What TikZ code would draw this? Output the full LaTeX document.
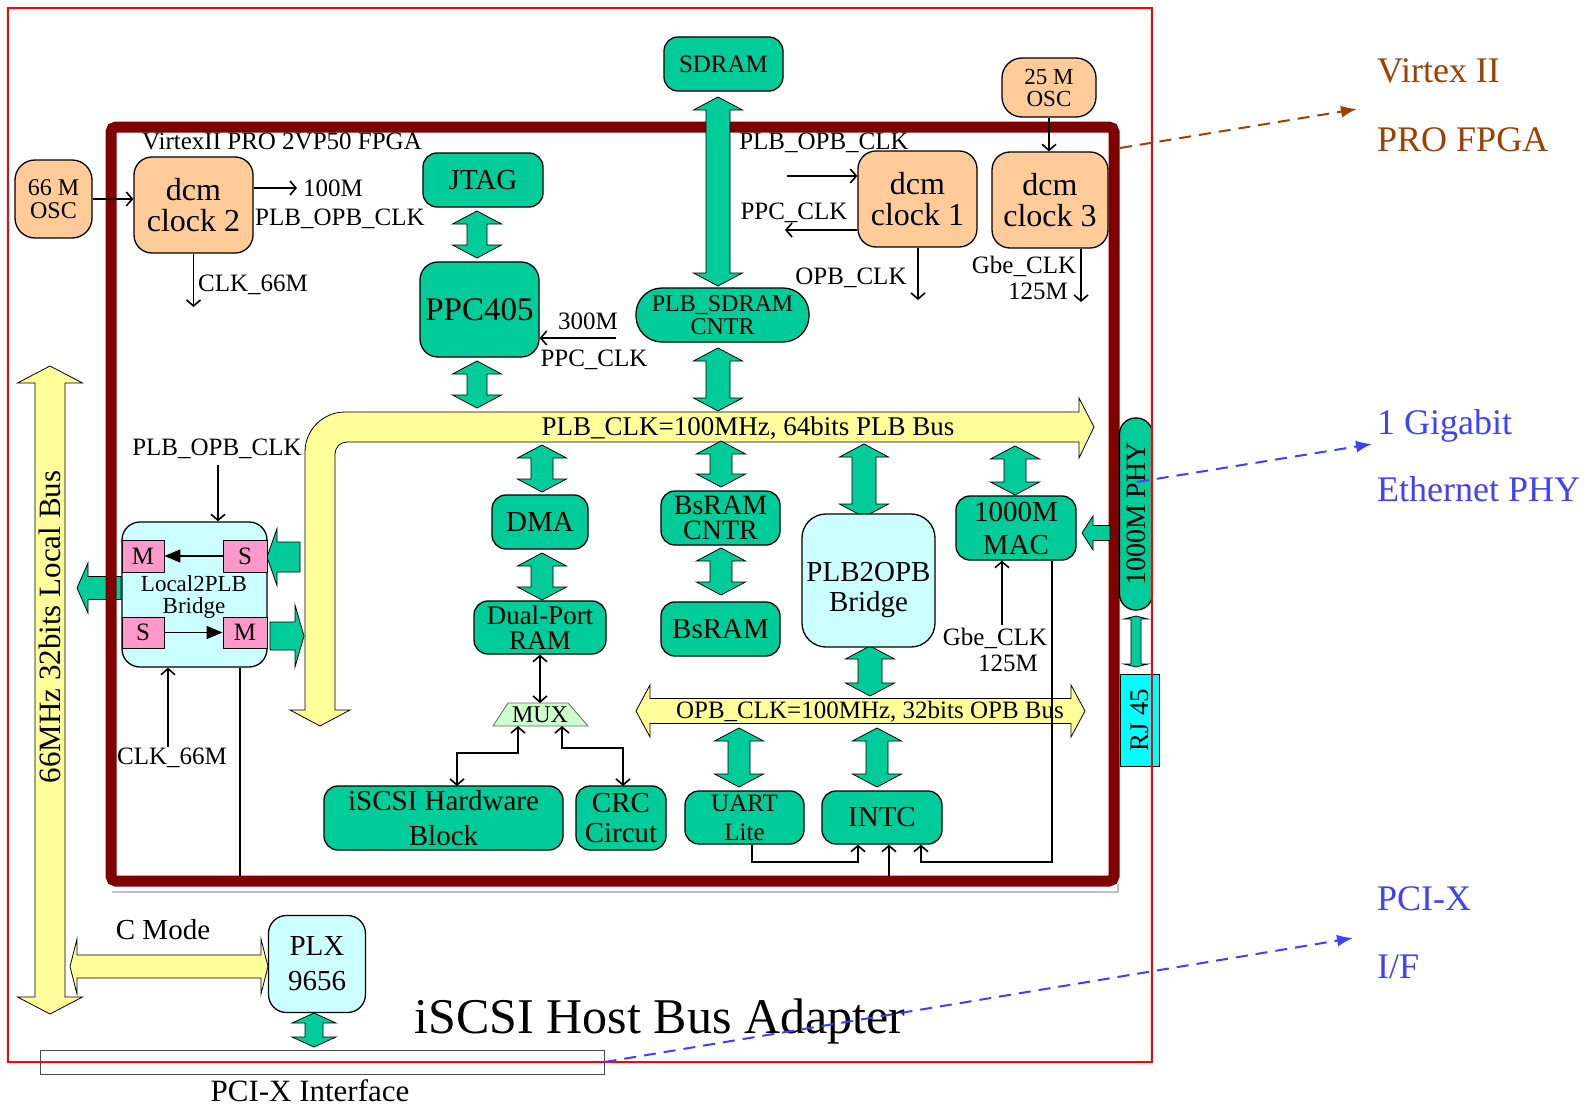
\documentclass[tikz,border=0pt]{standalone}
\usepackage{fontspec}
\setmainfont{Liberation Serif}
\usetikzlibrary{arrows.meta,calc}
\definecolor{grn}{RGB}{0,204,153}
\definecolor{peach}{RGB}{255,204,153}
\definecolor{lcyan}{RGB}{204,255,255}
\definecolor{ylw}{RGB}{255,255,153}
\definecolor{pinkm}{RGB}{255,153,204}
\definecolor{muxg}{RGB}{204,255,204}
\definecolor{framec}{RGB}{128,0,0}
\definecolor{rjc}{RGB}{0,255,255}
\definecolor{brn}{RGB}{160,64,0}
\definecolor{blu}{RGB}{64,64,255}
% vertical double block arrow: style, x, ytop, ybot, shaft half, head half, head len
\newcommand\vdblarrow[7]{\filldraw[#1] ({#2},{#3}) -- ({#2+#6},{#3+#7}) -- ({#2+#5},{#3+#7}) -- ({#2+#5},{#4-#7}) -- ({#2+#6},{#4-#7}) -- ({#2},{#4}) -- ({#2-#6},{#4-#7}) -- ({#2-#5},{#4-#7}) -- ({#2-#5},{#3+#7}) -- ({#2-#6},{#3+#7}) -- cycle;}
% horizontal double block arrow: style, y, xleft, xright, shaft half, head half, head len
\newcommand\hdblarrow[7]{\filldraw[#1] ({#3},{#2}) -- ({#3+#7},{#2-#6}) -- ({#3+#7},{#2-#5}) -- ({#4-#7},{#2-#5}) -- ({#4-#7},{#2-#6}) -- ({#4},{#2}) -- ({#4-#7},{#2+#6}) -- ({#4-#7},{#2+#5}) -- ({#3+#7},{#2+#5}) -- ({#3+#7},{#2+#6}) -- cycle;}
% single horizontal block arrow: style, y, xtip, xbase, xtail, shaft half, head half
\newcommand\sblockarrow[7]{\filldraw[#1] ({#3},{#2}) -- ({#4},{#2-#7}) -- ({#4},{#2-#6}) -- ({#5},{#2-#6}) -- ({#5},{#2+#6}) -- ({#4},{#2+#6}) -- ({#4},{#2+#7}) -- cycle;}
\begin{document}
\begin{tikzpicture}[x=1pt,y=-1pt,
  fs/.style 2 args={font=\fontsize{#1}{#2}\selectfont},
  box/.style={draw=black, line width=1.3pt, rounded corners=14pt, align=center, inner sep=0pt},
  gbox/.style={box, fill=grn},
  pbox/.style={box, fill=peach},
  cbox/.style={box, fill=lcyan},
  mbox/.style={draw=black, line width=0.9pt, fill=pinkm, inner sep=0pt, fs={25}{25}},
  lbl/.style={inner sep=0pt, fs={25}{25}},
  conn/.style={line width=1.6pt, -{Straight Barb[length=6pt,width=14pt]}},
  dconn/.style={line width=1.6pt, {Straight Barb[length=6pt,width=14pt]}-{Straight Barb[length=6pt,width=14pt]}},
  plain/.style={line width=1.6pt},
  tri/.style={line width=1.5pt, -{Triangle[length=16pt,width=13pt]}},
  garrow/.style={fill=grn, draw=black, line width=0.8pt},
  yarrow/.style={fill=ylw, draw=black, line width=0.8pt},
  lead/.style={line width=2pt, dash pattern=on 12pt off 8pt, -{Latex[length=16pt,width=12pt]}},
  rtext/.style={anchor=base west, inner sep=0pt, fs={36}{36}}]
\useasboundingbox (0,0) rectangle (1591,1108);
\fill[white] (0,0) rectangle (1591,1108);

% ---------- buses (yellow) ----------
\vdblarrow{yarrow}{50}{366}{1014}{15}{32.5}{17}
\node[rotate=90, inner sep=0pt, fs={31}{31}] (lbus) at (50,627) {66MHz 32bits Local Bus};
\hdblarrow{yarrow}{966.5}{70}{268}{11.5}{27.5}{7}
\node[lbl, fs={29}{29}] (cmode) at (163,930) {C Mode};

\filldraw[yarrow] (1094,427) -- (1079,398) -- (1079,412) [rounded corners=40pt] -- (305,412) -- (305,500) [sharp corners] -- (305,710) -- (290,710) -- (320,726) -- (350,710) -- (335,710) -- (335,600) [rounded corners=12pt] -- (335,442) -- (500,442) [sharp corners] -- (1079,442) -- (1079,458) -- cycle;
\node[lbl, fs={27}{27}] (plbbus) at (748,428) {PLB\_CLK=100MHz, 64bits PLB Bus};

\hdblarrow{yarrow}{711}{636}{1085}{12.5}{26}{14}
\node[lbl] (opbbus) at (870,712) {OPB\_CLK=100MHz, 32bits OPB Bus};

% ---------- left green arrow (under frame) ----------
\sblockarrow{garrow}{588}{77}{88}{121}{11.5}{25}

% ---------- FPGA frame ----------
\draw[black!25, line width=1.5pt] (112,892) -- (1118,892) -- (1118,884);
\draw[framec, line width=11pt, rounded corners=5pt] (111,127) rectangle (1114,881);
\node[lbl] (fpgalbl) at (282,141) {VirtexII PRO 2VP50 FPGA};

% ---------- green block arrows ----------
\vdblarrow{garrow}{477}{211}{258}{10}{24.5}{13}
\vdblarrow{garrow}{477}{361}{408}{10}{24.5}{13}
\vdblarrow{garrow}{718}{97}{286}{12}{24.5}{13}
\vdblarrow{garrow}{718}{348}{411}{12}{24.5}{13}
\vdblarrow{garrow}{542}{445}{492}{11}{24.5}{13}
\vdblarrow{garrow}{542}{553}{600}{11}{24.5}{13}
\vdblarrow{garrow}{721}{441}{487}{11}{24.5}{13}
\vdblarrow{garrow}{721}{548}{595}{11}{24.5}{13}
\vdblarrow{garrow}{864}{444}{517}{12}{24.5}{13}
\vdblarrow{garrow}{870}{646}{696}{12}{24.5}{13}
\vdblarrow{garrow}{1015}{446}{495}{11}{24.5}{13}
\vdblarrow{garrow}{739}{728}{787}{11}{24.5}{13}
\vdblarrow{garrow}{877}{728}{787}{11}{24.5}{13}
\vdblarrow{garrow}{314}{1013}{1047}{9}{22}{10}
\vdblarrow{garrow}{1136}{616}{667}{5}{12}{3}
\sblockarrow{garrow}{557}{267}{277}{300}{15}{28.5}
\sblockarrow{garrow}{636}{304}{295}{270}{14}{31}
\sblockarrow{garrow}{533}{1082}{1093}{1110}{7.5}{17}

% ---------- nodes ----------
\node[pbox, minimum width=77pt, minimum height=78pt, rounded corners=20pt, fs={24}{23}] (osc66) at (53.5,199) {66 M\\OSC};
\node[pbox, minimum width=119pt, minimum height=96pt, rounded corners=18pt, fs={32}{31}] (dcm2) at (193.5,205) {dcm\\clock 2};
\node[gbox, minimum width=120pt, minimum height=54pt, fs={29}{29}] (jtag) at (483,180) {JTAG};
\node[gbox, minimum width=119pt, minimum height=95pt, rounded corners=18pt, fs={33}{33}] (ppc) at (479.5,309.5) {PPC405};
\node[gbox, minimum width=119pt, minimum height=54pt, fs={25}{25}] (sdram) at (723.5,64) {SDRAM};
\node[gbox, minimum width=173pt, minimum height=54pt, rounded corners=26pt, fs={24}{23}] (sdc) at (722.5,315) {PLB\_SDRAM\\CNTR};
\node[pbox, minimum width=119pt, minimum height=96pt, rounded corners=18pt, fs={32}{31}] (dcm1) at (917.5,199) {dcm\\clock 1};
\node[pbox, minimum width=116pt, minimum height=96pt, rounded corners=18pt, fs={32}{31}] (dcm3) at (1050,200) {dcm\\clock 3};
\node[pbox, minimum width=94pt, minimum height=59pt, rounded corners=20pt, fs={23}{22}] (osc25) at (1049,87.5) {25 M\\OSC};
\node[gbox, minimum width=96pt, minimum height=54pt, fs={29}{29}] (dma) at (540,522) {DMA};
\node[gbox, minimum width=132pt, minimum height=53pt, fs={27}{25}] (dpr) at (540,627.5) {Dual-Port\\RAM};
\node[gbox, minimum width=239pt, minimum height=64pt, fs={29}{35}] (iscsi) at (443.5,818) {iSCSI Hardware\\Block};
\node[gbox, minimum width=90pt, minimum height=64pt, fs={29}{30}] (crc) at (621,818) {CRC\\Circut};
\node[gbox, minimum width=119pt, minimum height=53pt, fs={25}{29}] (uart) at (744.5,817.5) {UART\\Lite};
\node[gbox, minimum width=120pt, minimum height=53pt, fs={29}{29}] (intc) at (882,817.5) {INTC};
\node[gbox, minimum width=119pt, minimum height=54pt, fs={28}{25}] (bsc) at (720.5,518) {BsRAM\\CNTR};
\node[gbox, minimum width=119pt, minimum height=54pt, fs={29}{29}] (bsram) at (720.5,629) {BsRAM};
\node[cbox, minimum width=133pt, minimum height=133pt, rounded corners=24pt] (p2o) at (868.5,580.5) {};
\node[inner sep=0pt, align=center, fs={29}{30}] (p2ot) at (868.5,590) {PLB2OPB\\Bridge};
\node[gbox, minimum width=120pt, minimum height=64pt, fs={29}{33}] (mac) at (1016,528) {1000M\\MAC};
\node[gbox, rotate=90, minimum width=192pt, minimum height=33pt, rounded corners=16pt, fs={28}{28}] (phy) at (1136,514) {1000M PHY};
\node[draw=black, line width=1pt, fill=rjc, rotate=90, minimum width=92pt, minimum height=39pt, inner sep=0pt, fs={27}{27}] (rj) at (1140,720) {RJ 45};

% Local2PLB bridge
\node[cbox, minimum width=145pt, minimum height=145pt, rounded corners=18pt] (l2p) at (194.5,594.5) {};
\node[inner sep=0pt, align=center, fs={23}{22}] (l2pt) at (194,597) {Local2PLB\\Bridge};
\node[mbox, minimum width=42pt, minimum height=32pt] (m1) at (143,556) {M};
\node[mbox, minimum width=44pt, minimum height=32pt] (s1) at (245,556) {S};
\node[mbox, minimum width=42pt, minimum height=31pt] (s2) at (143,632.5) {S};
\node[mbox, minimum width=44pt, minimum height=31pt] (m2) at (245,632.5) {M};
\draw[tri] (s1.west) -- (m1.east);
\draw[tri] (s2.east) -- (m2.west);

% MUX
\filldraw[fill=muxg, draw=black!60, line width=0.8pt] (493,726) -- (508,703) -- (568,703) -- (588,726) -- cycle;
\node[inner sep=0pt, fs={24}{24}] (mux) at (540,715) {MUX};
\coordinate (muxT) at (540,703);
\coordinate (muxL) at (518,726);
\coordinate (muxR) at (562,726);

% PLX and PCI-X
\node[cbox, minimum width=97pt, minimum height=97pt, rounded corners=18pt, fs={29}{35}] (plx) at (317,964) {PLX\\9656};
\node[draw=black!70, line width=1pt, minimum width=564pt, minimum height=24pt, inner sep=0pt] (pcix) at (322,1062) {};
\node[lbl, fs={31}{31}] (pcixl) at (310,1091) {PCI-X Interface};
\node[lbl, fs={50}{50}] (title) at (660,1021) {iSCSI Host Bus Adapter};

% outer board
\draw[red, line width=1.2pt] (8,8) rectangle (1152,1062);

% ---------- clock labels ----------
\node[lbl, anchor=west] (t100) at (303,188) {100M};
\node[lbl, anchor=west] (tpo2) at (255,219) {PLB\_OPB\_CLK};
\node[lbl, anchor=west] (tc66) at (198,285) {CLK\_66M};
\node[lbl] (t300) at (588,321) {300M};
\node[lbl] (tpp0) at (594,360) {PPC\_CLK};
\node[lbl] (tpo1) at (824,143) {PLB\_OPB\_CLK};
\node[lbl] (tpp1) at (794,213) {PPC\_CLK};
\node[lbl] (topb) at (851,278) {OPB\_CLK};
\node[lbl] (tgb1) at (1024,266) {Gbe\_CLK};
\node[lbl] (t1251) at (1038,291) {125M};
\node[lbl] (tpob) at (217,449) {PLB\_OPB\_CLK};
\node[lbl] (tc66b) at (172,758) {CLK\_66M};
\node[lbl] (tgb2) at (995,638) {Gbe\_CLK};
\node[lbl] (t1252) at (1008,663) {125M};

% ---------- thin connectors ----------
\coordinate (c100) at (297,188);
\draw[conn] (dcm2.east |- c100) -- (c100);
\draw[conn] (osc66.east) -- (dcm2.west |- osc66.east);
\coordinate (c66) at (193.5,307);
\draw[conn] (dcm2.south) -- (c66);
\draw[conn] (osc25.south) -- (osc25.south |- dcm3.north);
\coordinate (cpo1) at (787,176);
\draw[conn] (cpo1) -- (dcm1.west |- cpo1);
\coordinate (cpp1) at (785,230);
\draw[conn] (dcm1.west |- cpp1) -- (cpp1);
\coordinate (copb) at (918,300);
\draw[conn] (dcm1.south -| copb) -- (copb);
\coordinate (cgbe) at (1081,302);
\draw[conn] (dcm3.south -| cgbe) -- (cgbe);
\coordinate (c300) at (616,338);
\draw[conn] (c300) -- (ppc.east |- c300);
\coordinate (cbr1) at (218,465);
\draw[conn] (cbr1) -- (l2p.north -| cbr1);
\coordinate (cbr2) at (168,747);
\draw[conn] (cbr2) -- (l2p.south -| cbr2);
\coordinate (cbr3) at (240,876);
\draw[plain] (l2p.south -| cbr3) -- (cbr3);
\draw[dconn] (dpr.south) -- (muxT);
\coordinate (ci1) at (457,786);
\draw[dconn] (muxL) -- ++(0,27) -| (ci1);
\coordinate (cc1) at (623,786);
\draw[dconn] (muxR) -- ++(0,22) -| (cc1);
\coordinate (cu1) at (752,862);
\coordinate (cu2) at (858,862);
\draw[conn] (uart.south -| cu1) |- (cu2) -- (intc.south -| cu2);
\coordinate (cfr) at (889,876);
\draw[conn] (cfr) -- (intc.south -| cfr);
\coordinate (cm1) at (1052,862);
\coordinate (cm2) at (921,862);
\draw[conn] (mac.south -| cm1) -- (cm1) -- (cm2) -- (intc.south -| cm2);
\coordinate (cg2) at (1002,625);
\draw[conn] (cg2) -- (mac.south -| cg2);

% ---------- leaders and right labels ----------
\coordinate (lv1) at (1120,148);
\coordinate (lv2) at (1357,109);
\draw[lead, brn] (lv1) -- (lv2);
\coordinate (lp1) at (1137,482);
\coordinate (lp2) at (1372,444);
\draw[lead, blu] (lp1) -- (lp2);
\coordinate (lx2) at (1353,938);
\draw[lead, blu] (pcix.east) -- (lx2);
\node[rtext, text=brn] (rv1) at (1377,83) {Virtex II};
\node[rtext, text=brn] (rv2) at (1377,151) {PRO FPGA};
\node[rtext, text=blu] (rg1) at (1377,434) {1 Gigabit};
\node[rtext, text=blu] (rg2) at (1377,501) {Ethernet PHY};
\node[rtext, text=blu] (rp1) at (1377,910) {PCI-X};
\node[rtext, text=blu] (rp2) at (1377,978) {I/F};
\end{tikzpicture}
\end{document}
